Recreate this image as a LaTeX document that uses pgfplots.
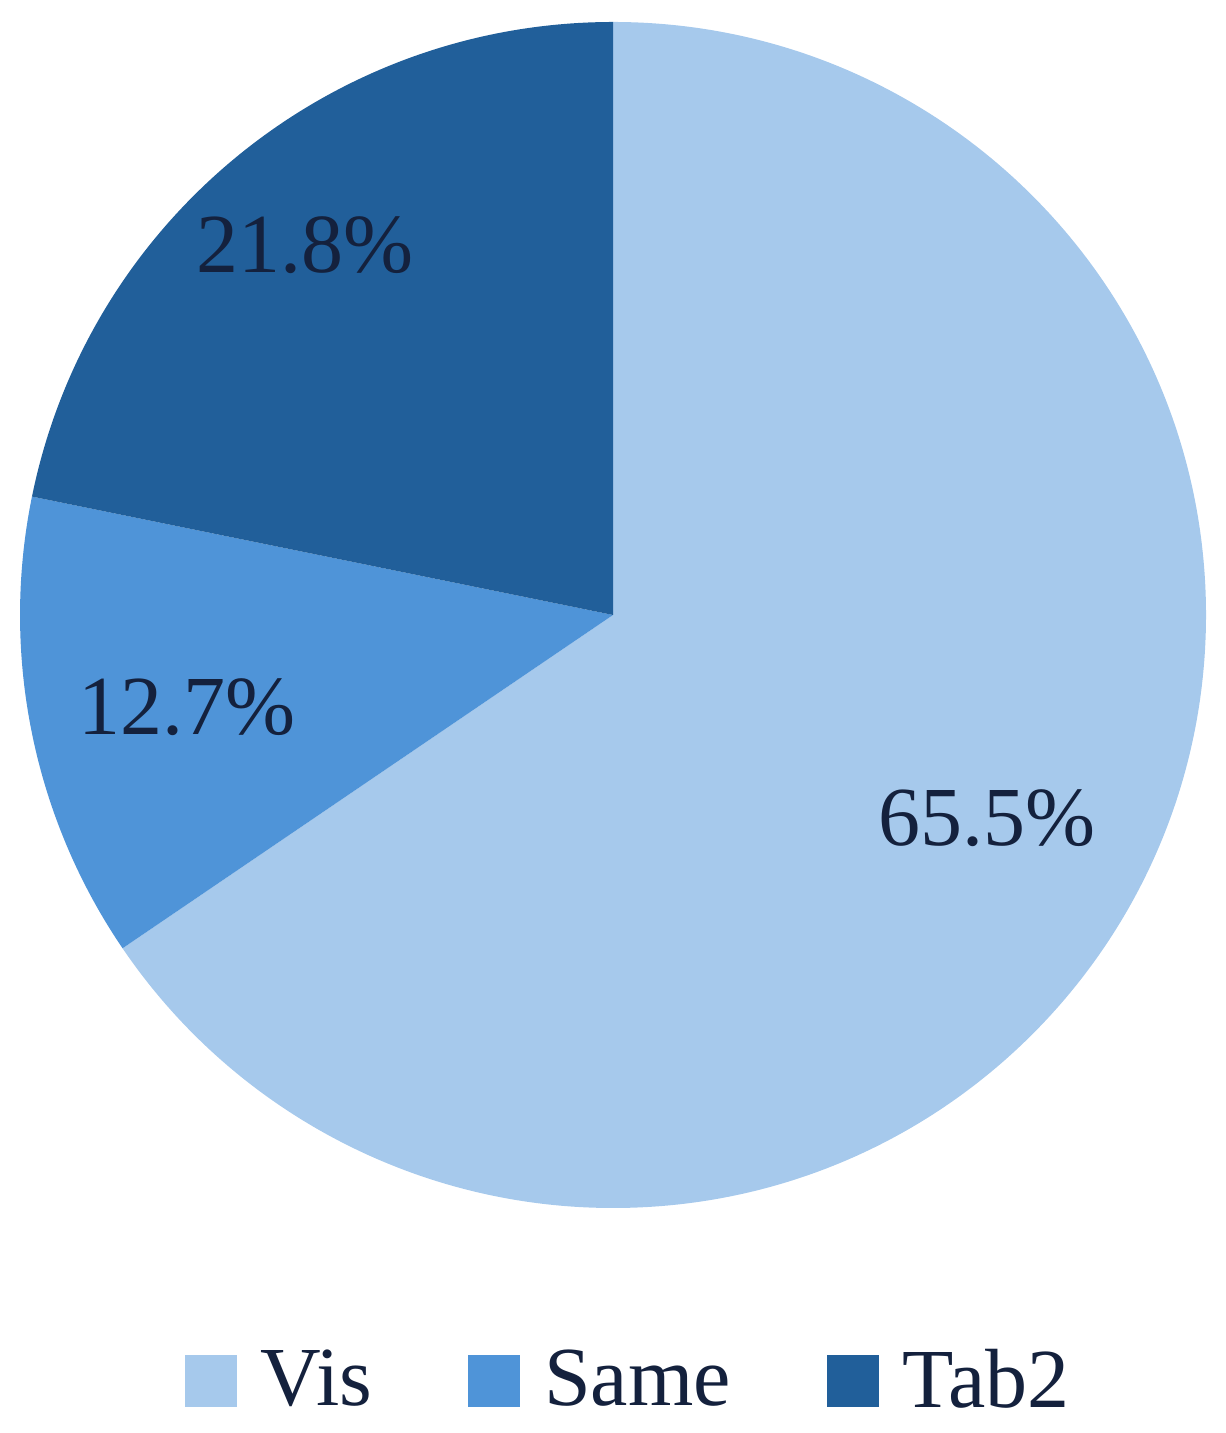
\documentclass[border=0pt]{standalone}
\usepackage{fontspec}
\setmainfont{Liberation Serif}
\usepackage{pgfplots}
\usepackage{pgfplotstable}
\pgfplotsset{compat=1.18}
\definecolor{vis}{HTML}{A6C9EC}
\definecolor{same}{HTML}{4F94D8}
\definecolor{tabtwo}{HTML}{215F9A}
\definecolor{txt}{HTML}{14213D}
\pgfplotstableread{
label value
Vis 65.5
Same 12.7
Tab2 21.8
}\piedata
\begin{document}
\begin{tikzpicture}
\pgfplotstablegetelem{0}{value}\of\piedata \let\va\pgfplotsretval
\pgfplotstablegetelem{1}{value}\of\piedata \let\vb\pgfplotsretval
\pgfplotstablegetelem{2}{value}\of\piedata \let\vc\pgfplotsretval
\pgfmathsetmacro\aA{90}
\pgfmathsetmacro\aB{90-3.6*\va}
\pgfmathsetmacro\aC{\aB-3.6*\vb}
\pgfmathsetmacro\aD{\aC-3.6*\vc}
\begin{axis}[
  scale only axis, width=306.5pt, height=358.25pt,
  xmin=0, xmax=1226, ymin=-1433, ymax=0,
  axis lines=none, clip=false,
  legend columns=3,
  legend style={draw=none, fill=none, at={(axis cs:631,-1381)}, anchor=center,
    font=\fontsize{21}{25}\selectfont, text=txt,
    /tikz/every odd column/.append style={column sep=4pt},
    /tikz/every even column/.append style={column sep=22pt},
    cells={anchor=west}},
]
\path (axis cs:0,0) rectangle (axis cs:1226,-1433);
\addlegendimage{legend image code/.code={\fill[vis] (0pt,-6.3pt) rectangle (12.6pt,6.3pt);}}
\addlegendentry{Vis}
\addlegendimage{legend image code/.code={\fill[same] (0pt,-6.3pt) rectangle (12.6pt,6.3pt);}}
\addlegendentry{Same}
\addlegendimage{legend image code/.code={\fill[tabtwo] (0pt,-6.3pt) rectangle (12.6pt,6.3pt);}}
\addlegendentry{Tab2}
\fill[vis] (axis cs:613,-615) -- ([shift={(\aA:148.25pt)}]axis cs:613,-615) arc[start angle=\aA, end angle=\aB, radius=148.25pt] -- cycle;
\fill[same] (axis cs:613,-615) -- ([shift={(\aB:148.25pt)}]axis cs:613,-615) arc[start angle=\aB, end angle=\aC, radius=148.25pt] -- cycle;
\fill[tabtwo] (axis cs:613,-615) -- ([shift={(\aC:148.25pt)}]axis cs:613,-615) arc[start angle=\aC, end angle=\aD, radius=148.25pt] -- cycle;
\node[text=txt, font=\fontsize{21}{25}\selectfont] at (axis cs:987,-818) {\va\%};
\node[text=txt, font=\fontsize{21}{25}\selectfont] at (axis cs:187,-707) {\vb\%};
\node[text=txt, font=\fontsize{21}{25}\selectfont] at (axis cs:305,-245) {\vc\%};
\end{axis}
\end{tikzpicture}
\end{document}
